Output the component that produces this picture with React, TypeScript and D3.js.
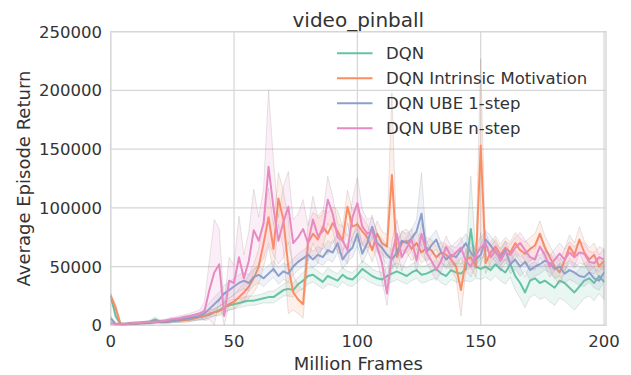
import React from "react";
import * as d3 from "d3";

// Million frames (sampled every 2M)
const frames: number[] = d3.range(0, 201, 2);

const seriesNames = ["DQN", "DQN Intrinsic Motivation", "DQN UBE 1-step", "DQN UBE n-step"];
const seriesColors = ["#66c2a5", "#fc8d62", "#8da0cb", "#e78ac3"];

// values in thousands
const dqn = [
  25, 8, 1, 1, 1.5, 2, 2, 2.5, 3, 5,
  3, 3, 3.5, 4, 4.5, 5, 5.5, 6, 7, 8,
  9, 11, 13, 15, 17, 18, 19, 20, 21, 21,
  22, 23, 24, 24, 27, 30, 31, 30, 35, 38,
  42, 43, 40, 37, 42, 40, 38, 43, 40, 39,
  43, 48, 45, 42, 40, 39, 42, 44, 46, 44,
  42, 45, 47, 43, 44, 46, 48, 44, 42, 47,
  45, 44, 48, 82, 50, 48, 50, 47, 52, 48,
  45, 52, 42, 36, 28, 38, 40, 36, 38, 35,
  32, 38, 36, 32, 28, 33, 38, 40, 36, 42,
  37,
];
const dqnCi = [
  2, 2, 1, 1, 1, 1, 1, 1, 1.5, 2,
  1.5, 1.5, 1.5, 1.5, 2, 2, 2, 2, 2.5, 3,
  3, 3, 3.5, 4, 4, 4, 4, 4, 4, 4,
  4, 4, 5, 5, 5, 5, 6, 6, 6, 7,
  7, 6, 6, 6, 7, 6, 6, 6, 6, 6,
  6, 7, 7, 6, 6, 6, 7, 7, 7, 7,
  7, 7, 7, 7, 7, 7, 8, 8, 8, 8,
  8, 8, 10, 45, 10, 9, 9, 9, 10, 10,
  10, 11, 12, 13, 13, 14, 14, 14, 14, 15,
  15, 15, 15, 15, 15, 15, 15, 15, 15, 15,
  15,
];
const intrinsic = [
  25, 15, 1, 1, 1.5, 1.5, 2, 2, 2, 2.5,
  3, 3, 3.5, 4, 4, 4.5, 5, 6, 7, 8,
  10, 11, 12, 15, 18, 20, 24, 28, 33, 40,
  50, 70, 92, 65, 108, 90, 50, 28, 22, 18,
  70, 78, 73, 84, 78, 87, 80, 72, 101, 84,
  86, 80, 75, 64, 78, 70, 67, 128, 58, 70,
  72, 65, 70, 62, 66, 64, 58, 62, 60, 56,
  50, 30, 56, 58, 50, 153, 53, 62, 67, 60,
  66, 62, 70, 64, 61, 65, 68, 78, 66, 58,
  50, 45, 55, 67, 60, 73, 62, 56, 60, 50,
  55,
];
const intrinsicCi = [
  2, 3, 1, 1, 1, 1, 1, 1, 1, 1,
  1, 1, 1.5, 1.5, 1.5, 2, 2, 2, 2.5, 3,
  3, 3, 4, 5, 5, 6, 7, 8, 10, 12,
  15, 20, 25, 20, 22, 25, 40, 15, 12, 12,
  15, 18, 20, 14, 18, 14, 18, 12, 14, 14,
  14, 12, 11, 10, 11, 10, 10, 70, 10, 10,
  10, 10, 10, 9, 9, 9, 9, 9, 9, 9,
  10, 22, 9, 9, 9, 74, 9, 9, 9, 9,
  9, 9, 9, 10, 10, 10, 10, 11, 10, 10,
  10, 10, 10, 10, 10, 11, 10, 10, 10, 10,
  10,
];
const ube1 = [
  6, 1, 1, 1, 1.5, 1.5, 2, 2, 2.5, 3,
  3, 3, 3.5, 4, 5, 6, 6, 7, 8, 10,
  14, 18, 22, 27, 30, 33, 36, 38, 36, 41,
  43, 40, 44, 48, 42, 46, 44, 50, 54, 57,
  60, 56, 60, 58, 64, 62, 70, 56, 62, 66,
  78, 61, 70, 84, 70, 66, 60, 56, 62, 72,
  70, 74, 80, 95, 62, 68, 73, 62, 56, 60,
  58, 64, 70, 62, 56, 60, 73, 68, 62, 58,
  64, 52, 56, 50, 54, 47, 50, 52, 55, 53,
  48, 50, 44, 47, 45, 42, 41, 45, 40, 38,
  45,
];
const ube1Ci = [
  2, 1, 1, 1, 1, 1, 1, 1, 1, 1,
  1, 1, 1.5, 1.5, 2, 2, 2, 2.5, 3, 4,
  5, 6, 6, 7, 7, 7, 7, 7, 7, 7,
  7, 7, 7, 7, 7, 7, 7, 7, 7, 7,
  7, 7, 7, 7, 8, 8, 8, 8, 8, 8,
  10, 8, 8, 10, 8, 8, 8, 8, 8, 8,
  8, 8, 10, 35, 8, 8, 8, 8, 8, 8,
  8, 8, 8, 8, 8, 8, 8, 8, 8, 8,
  8, 8, 8, 8, 8, 8, 8, 8, 8, 8,
  8, 8, 8, 8, 8, 8, 8, 8, 8, 8,
  8,
];
const uben = [
  2, 1, 1, 1, 1.5, 2, 2, 2.5, 3, 3,
  3.5, 4, 5, 5.5, 6, 7, 8, 9, 10, 12,
  30, 45, 52, 8, 38, 36, 58, 40, 55, 81,
  72, 87, 135, 100, 72, 88, 101, 70, 75, 82,
  70, 90, 76, 80, 107, 95, 75, 72, 64, 92,
  104, 84, 78, 80, 67, 53, 27, 60, 78, 58,
  66, 73, 55, 78, 62, 55, 47, 55, 67, 58,
  62, 66, 55, 50, 60, 66, 70, 58, 64, 55,
  62, 60, 66, 70, 64, 58, 56, 67, 60, 50,
  56, 61, 56, 62, 58, 62, 61, 54, 53, 58,
  56,
];
const ubenCi = [
  1, 1, 1, 1, 1, 1, 1, 1, 1, 1,
  1, 1, 1.5, 1.5, 2, 2, 2, 2.5, 3, 8,
  25, 45, 30, 10, 20, 15, 35, 20, 25, 35,
  20, 30, 65, 40, 20, 30, 30, 20, 20, 25,
  15, 20, 15, 15, 20, 15, 12, 12, 12, 15,
  22, 15, 12, 12, 12, 15, 10, 12, 12, 12,
  9, 9, 9, 9, 9, 9, 9, 9, 9, 9,
  9, 9, 9, 9, 9, 9, 9, 9, 9, 9,
  9, 9, 9, 9, 9, 9, 9, 9, 9, 9,
  9, 9, 9, 9, 9, 9, 9, 9, 9, 9,
  9,
];

const seriesValues = [dqn, intrinsic, ube1, uben];
const seriesCi = [dqnCi, intrinsicCi, ube1Ci, ubenCi];

const xTicks = [0, 50, 100, 150, 200];
const yTicks = [0, 50, 100, 150, 200, 250]; // thousands

const W = 631;
const H = 375;
const left = 110.7;
const right = 606;
const top = 31.7;
const bottom = 325.3;
const FONT = "'DejaVu Sans', sans-serif";
const TEXT = "#333";
const GRID = "#d6d6d6";

export default function App() {
  const x = d3.scaleLinear().domain([0, 200.8]).range([left, right]);
  const y = d3.scaleLinear().domain([0, 250]).range([bottom, top]);

  const line = d3
    .line<number>()
    .x((_, i) => x(frames[i]))
    .y((d) => y(d));

  const area = (vals: number[], ci: number[]) =>
    d3
      .area<number>()
      .x((_, i) => x(frames[i]))
      .y0((d, i) => y(Math.max(0, d - ci[i])))
      .y1((d, i) => y(d + ci[i]))(vals) || "";

  return (
    <svg
      width={W}
      height={H}
      style={{ position: "absolute", left: 0, top: 0, background: "#fff" }}
      fontFamily={FONT}
    >
      <defs>
        <clipPath id="plotclip">
          <rect x={left} y={top} width={right - left} height={bottom - top} />
        </clipPath>
      </defs>
      {/* grid */}
      {xTicks.map((t) => (
        <line key={"gx" + t} x1={x(t)} x2={x(t)} y1={top} y2={bottom} stroke={GRID} strokeWidth={1.2} />
      ))}
      {yTicks.map((t) => (
        <line key={"gy" + t} x1={left} x2={right} y1={y(t)} y2={y(t)} stroke={GRID} strokeWidth={1.2} />
      ))}
      <rect x={left} y={top} width={right - left} height={bottom - top} fill="none" stroke={GRID} strokeWidth={1.4} />

      <g clipPath="url(#plotclip)">
        {seriesValues.map((vals, k) => (
          <g key={"s" + k}>
            <path
              d={area(vals, seriesCi[k])}
              fill={seriesColors[k]}
              fillOpacity={0.14}
              stroke="#888"
              strokeOpacity={0.35}
              strokeWidth={0.6}
            />
            <path d={line(vals) || ""} fill="none" stroke={seriesColors[k]} strokeWidth={2} strokeLinejoin="round" />
          </g>
        ))}
      </g>

      {/* x ticks */}
      {xTicks.map((t) => (
        <text key={"tx" + t} x={x(t)} y={347} fontSize={16.5} fill={TEXT} textAnchor="middle">
          {t}
        </text>
      ))}
      {yTicks.map((t) => (
        <text key={"ty" + t} x={102} y={y(t) + 6} fontSize={16.5} fill={TEXT} textAnchor="end">
          {t * 1000}
        </text>
      ))}

      <text x={(left + right) / 2} y={369.5} fontSize={18} fill={TEXT} textAnchor="middle">
        Million Frames
      </text>
      <text
        transform={`translate(30,${(top + bottom) / 2}) rotate(-90)`}
        fontSize={18}
        fill={TEXT}
        textAnchor="middle"
      >
        Average Episode Return
      </text>
      <text x={(left + right) / 2} y={26.5} fontSize={20} fill={TEXT} textAnchor="middle">
        video_pinball
      </text>

      {/* legend */}
      {seriesNames.map((n, k) => {
        const ly = 53.3 + k * 25;
        return (
          <g key={"lg" + k}>
            <line x1={337} x2={372.5} y1={ly} y2={ly} stroke={seriesColors[k]} strokeWidth={2} />
            <text x={386} y={ly + 6} fontSize={16.5} fill={TEXT}>
              {n}
            </text>
          </g>
        );
      })}
    </svg>
  );
}
